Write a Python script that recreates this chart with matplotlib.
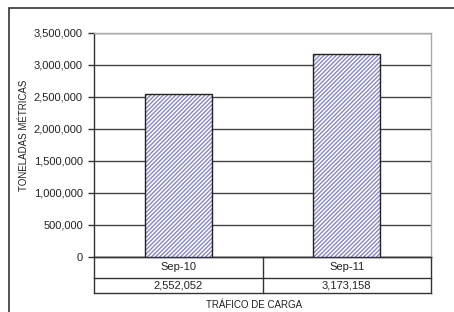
import matplotlib.pyplot as plt
from matplotlib.patches import Rectangle

periodos = ['Sep-10', 'Sep-11']
toneladas = [2552052, 3173158]
y_ticks = [0, 500000, 1000000, 1500000, 2000000, 2500000, 3000000, 3500000]

plt.rcParams['font.family'] = ['Liberation Sans', 'DejaVu Sans']
plt.rcParams['hatch.linewidth'] = 1.0

W, H = 454, 312
fig = plt.figure(figsize=(W / 100, H / 100), dpi=100)

# marco exterior (cortado a la derecha y abajo)
fig.patches.append(Rectangle((9 / W, -0.1), 1.2, 1 - 8 / H + 0.1, transform=fig.transFigure,
                             fill=False, edgecolor='#333333', linewidth=1.2))

ax = fig.add_axes([94 / W, (H - 257) / H, 337 / W, 224 / H])
x = range(len(periodos))

# barras con trama diagonal
ax.bar(x, toneladas, width=0.4, color='white', edgecolor='#8686cc', hatch='/' * 8,
       linewidth=0, zorder=3)
ax.bar(x, toneladas, width=0.4, fill=False, edgecolor='#222222', linewidth=1.0, zorder=4)

ax.set_xlim(-0.5, len(periodos) - 0.5)
ax.set_ylim(0, 3500000)
ax.set_yticks(y_ticks)
ax.set_yticklabels([f'{v:,}' for v in y_ticks], fontsize=8, color='#222222')
ax.set_xticks([])
ax.yaxis.grid(True, color='#444444', linewidth=1.0, zorder=1)
ax.tick_params(axis='y', length=4, width=1, color='#333333', pad=4)

ax.spines['left'].set_color('#333333')
ax.spines['bottom'].set_color('#333333')
ax.spines['top'].set_color('#aaaaaa')
ax.spines['right'].set_color('#aaaaaa')
for s in ax.spines.values():
    s.set_linewidth(1.0)

# tabla de datos bajo el eje
tr = ax.get_xaxis_transform()
r1 = -21 / 224
r2 = -36 / 224
for yy in [0, r1, r2]:
    ax.plot([-0.5, len(periodos) - 0.5], [yy, yy], transform=tr, color='#333333',
            linewidth=1.0, clip_on=False)
for xx in [i - 0.5 for i in range(len(periodos) + 1)]:
    ax.plot([xx, xx], [0, r2], transform=tr, color='#333333', linewidth=1.0, clip_on=False)
for i, (p, v) in enumerate(zip(periodos, toneladas)):
    ax.text(i, r1 / 2, p, transform=tr, ha='center', va='center', fontsize=8, color='#222222')
    ax.text(i, (r1 + r2) / 2, f'{v:,}', transform=tr, ha='center', va='center',
            fontsize=8, color='#222222')

fig.text(254 / W, 1 - 305 / H, 'TRÁFICO DE CARGA', ha='center', va='center',
         fontsize=7, color='#222222')
fig.text(24 / W, 1 - 135 / H, 'TONELADAS MÉTRICAS', ha='center', va='center',
         rotation=90, fontsize=7, color='#222222')

fig.savefig('out.png', dpi=100)
